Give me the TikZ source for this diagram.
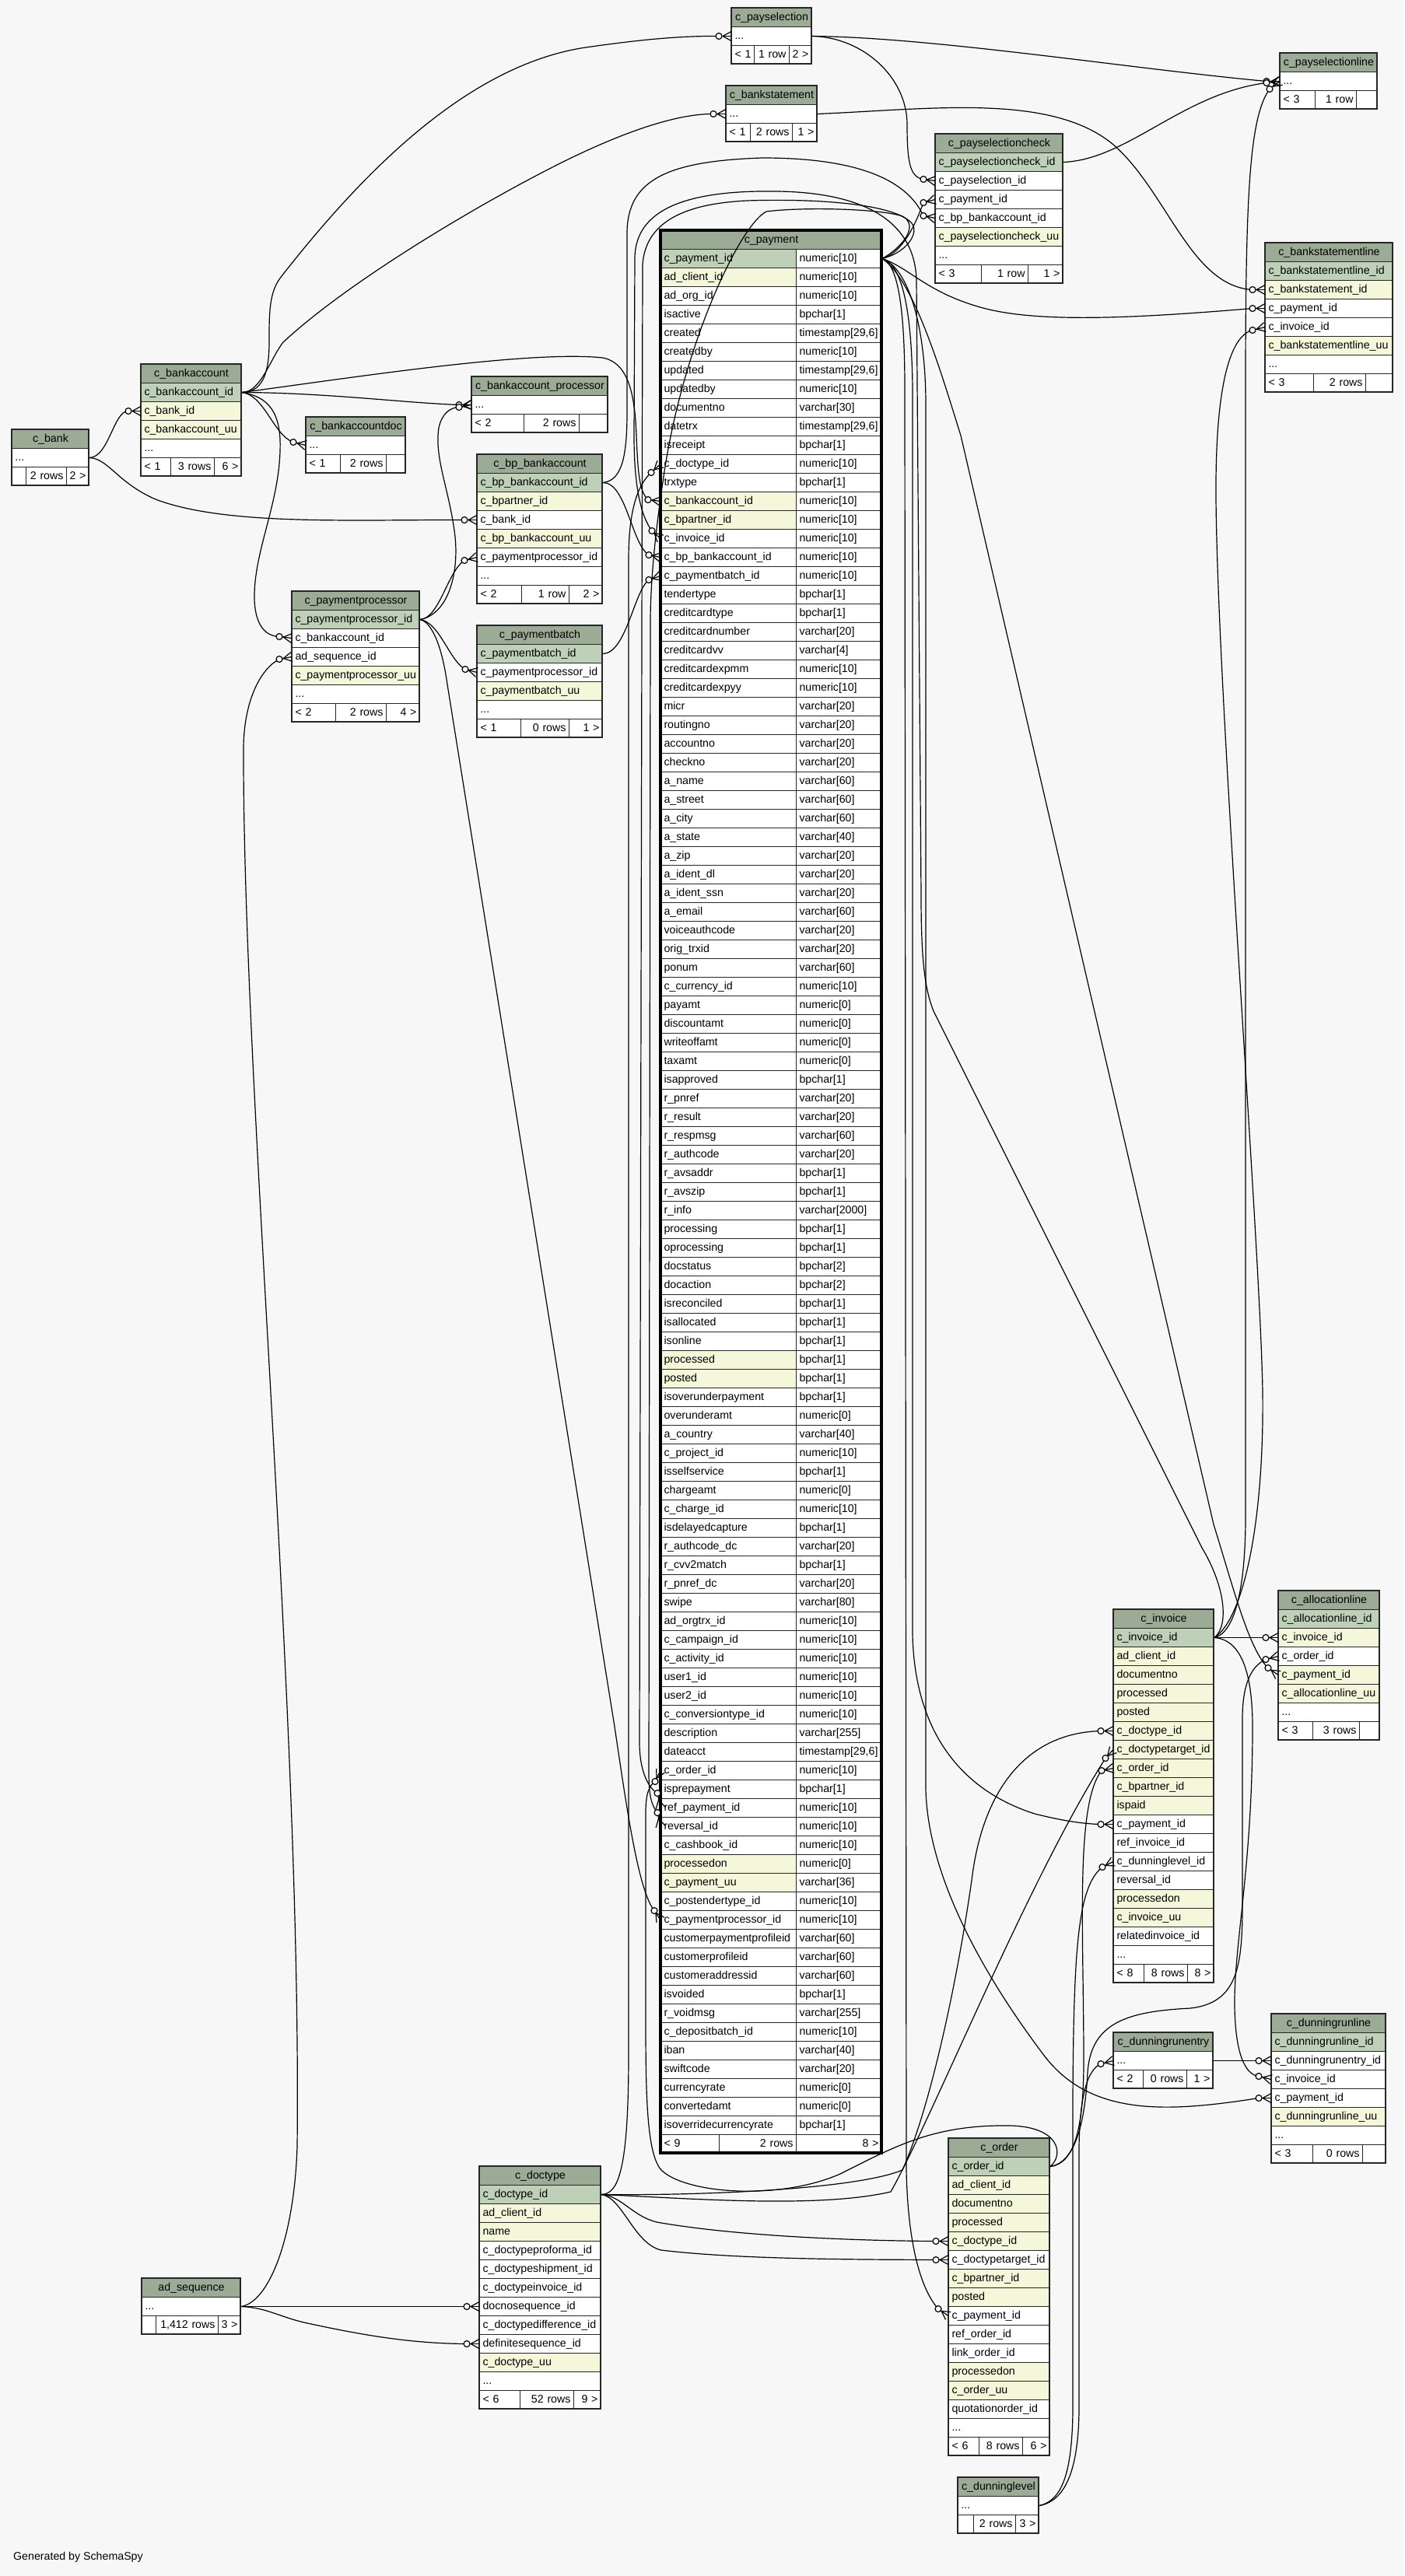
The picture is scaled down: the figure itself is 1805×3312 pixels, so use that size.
\documentclass[tikz,border=0pt]{standalone}
\usepackage{fontspec}
\setmainfont{Liberation Sans}
\usetikzlibrary{calc}
\definecolor{bgc}{HTML}{F7F7F7}
\definecolor{hdc}{HTML}{9BAB96}
\definecolor{pk}{HTML}{BED1B8}
\definecolor{ix}{HTML}{F4F7DA}
\colorlet{wh}{white}
\colorlet{bordc}{black!85}
\newcommand{\rowfont}{\fontsize{14.2}{16}\selectfont}
\newcommand{\dd}{...}
\tikzset{
  cellbase/.style={draw=bordc, line width=1pt, anchor=north west, minimum height=24pt, inner xsep=4pt, inner ysep=0pt, text height=11pt, text depth=3pt, font=\rowfont},
  edge/.style={draw=black, line width=1.2pt, line join=round},
  tframe/.style={draw=bordc, line width=1.6pt},
  mainframe/.style={draw=black, line width=3.5pt},
}
\newcommand{\cellL}[6]{\pgfmathsetmacro{\tw}{#4-8}\node[cellbase, fill=#5, text width=\tw pt, align=left] (#1) at (#2,#3) {\mbox{#6}};}
\newcommand{\cellR}[6]{\pgfmathsetmacro{\tw}{#4-8}\node[cellbase, fill=#5, text width=\tw pt, align=right] (#1) at (#2,#3) {\mbox{#6}};}
\newcommand{\cellC}[6]{\node[cellbase, fill=#5, minimum width=#4pt, inner xsep=0pt] (#1) at (#2,#3) {#6};}
\newcommand{\dbtable}[6]{%
  \cellC{#1}{#2}{#3}{#4}{hdc}{#5}
  \foreach \fc/\nm [count=\i] in {#6} {
    \pgfmathsetmacro{\yy}{#3+24*\i}
    \cellL{#1-\i}{#2}{\yy}{#4}{\fc}{\nm}
  }
}
\newcommand{\dbfoot}[9]{%
  \pgfmathsetmacro{\wa}{#3-#2}\cellL{#1-fa}{#2}{#6}{\wa}{wh}{#7}
  \pgfmathsetmacro{\wb}{#4-#3}\cellR{#1-fb}{#3}{#6}{\wb}{wh}{#8}
  \pgfmathsetmacro{\wc}{#5-#4}\cellR{#1-fc}{#4}{#6}{\wc}{wh}{#9}
}
\newcommand{\crow}[2]{%
  \draw[edge] (#1) -- (#2);
  \draw[edge] ($(#2)!11pt!(#1)$) -- ($(#2)!6pt!90:(#1)$);
  \draw[edge] ($(#2)!11pt!(#1)$) -- ($(#2)!6pt!-90:(#1)$);
  \draw[edge, fill=bgc] (#1) circle[radius=4pt];
}
\newcommand{\fk}[4]{%
  \coordinate (#1) at ([shift={#3}]#2);
  \draw[edge] #4 (#1);
  \crow{#1}{#2}
}
\begin{document}
\begin{tikzpicture}[x=1pt,y=-1pt]
\useasboundingbox (0,0) rectangle (1805,3312);
\fill[bgc] (0,0) rectangle (1805,3312);

% c_bank
\dbtable{bank}{15}{552}{99}{c\_bank}{wh/\dd}
\dbfoot{bank}{15}{33}{85}{114}{600}{}{2 rows}{2 >}
\draw[tframe] (15,552) rectangle (114,624);
% c_bankaccount
\dbtable{ba}{181}{468}{129}{c\_bankaccount}{pk/c\_bankaccount\_id, ix/c\_bank\_id, ix/c\_bankaccount\_uu, wh/\dd}
\dbfoot{ba}{181}{219}{275}{310}{588}{< 1}{3 rows}{6 >}
\draw[tframe] (181,468) rectangle (310,612);
% c_bankaccountdoc
\dbtable{bad}{393}{536}{128}{c\_bankaccountdoc}{wh/\dd}
\dbfoot{bad}{393}{437}{496}{521}{584}{< 1}{2 rows}{}
\draw[tframe] (393,536) rectangle (521,608);
% c_bankaccount_processor
\dbtable{bap}{606}{484}{175}{c\_bankaccount\_processor}{wh/\dd}
\dbfoot{bap}{606}{673}{744}{781}{532}{< 2}{2 rows}{}
\draw[tframe] (606,484) rectangle (781,556);
% c_bp_bankaccount
\dbtable{bpb}{613}{584}{161}{c\_bp\_bankaccount}{pk/c\_bp\_bankaccount\_id, ix/c\_bpartner\_id, wh/c\_bank\_id, ix/c\_bp\_bankaccount\_uu, wh/c\_paymentprocessor\_id, wh/\dd}
\dbfoot{bpb}{613}{670}{731}{774}{752}{< 2}{1 row}{2 >}
\draw[tframe] (613,584) rectangle (774,776);
% c_paymentbatch
\dbtable{pb}{613}{804}{161}{c\_paymentbatch}{pk/c\_paymentbatch\_id, wh/c\_paymentprocessor\_id, ix/c\_paymentbatch\_uu, wh/\dd}
\dbfoot{pb}{613}{669}{731}{774}{924}{< 1}{0 rows}{1 >}
\draw[tframe] (613,804) rectangle (774,948);
% c_paymentprocessor
\dbtable{pp}{375}{760}{164}{c\_paymentprocessor}{pk/c\_paymentprocessor\_id, wh/c\_bankaccount\_id, wh/ad\_sequence\_id, ix/c\_paymentprocessor\_uu, wh/\dd}
\dbfoot{pp}{375}{431}{496}{539}{904}{< 2}{2 rows}{4 >}
\draw[tframe] (375,760) rectangle (539,928);
% c_payselection
\dbtable{ps}{940}{10}{103}{c\_payselection}{wh/\dd}
\dbfoot{ps}{940}{969}{1014}{1043}{58}{< 1}{1 row}{2 >}
\draw[tframe] (940,10) rectangle (1043,82);
% c_bankstatement
\dbtable{bs}{933}{110}{117}{c\_bankstatement}{wh/\dd}
\dbfoot{bs}{933}{964}{1018}{1050}{158}{< 1}{2 rows}{1 >}
\draw[tframe] (933,110) rectangle (1050,182);
% c_payselectionline
\dbtable{psl}{1645}{68}{125}{c\_payselectionline}{wh/\dd}
\dbfoot{psl}{1645}{1690}{1743}{1770}{116}{< 3}{1 row}{}
\draw[tframe] (1645,68) rectangle (1770,140);
% c_payselectioncheck
\dbtable{psc}{1202}{172}{164}{c\_payselectioncheck}{pk/c\_payselectioncheck\_id, wh/c\_payselection\_id, wh/c\_payment\_id, wh/c\_bp\_bankaccount\_id, ix/c\_payselectioncheck\_uu, wh/\dd}
\dbfoot{psc}{1202}{1261}{1321}{1366}{340}{< 3}{1 row}{1 >}
\draw[tframe] (1202,172) rectangle (1366,364);
% c_bankstatementline
\dbtable{bsl}{1626}{312}{164}{c\_bankstatementline}{pk/c\_bankstatementline\_id, ix/c\_bankstatement\_id, wh/c\_payment\_id, wh/c\_invoice\_id, ix/c\_bankstatementline\_uu, wh/\dd}
\dbfoot{bsl}{1626}{1688}{1755}{1790}{480}{< 3}{2 rows}{}
\draw[tframe] (1626,312) rectangle (1790,504);
% c_invoice
\dbtable{inv}{1431}{2069}{129}{c\_invoice}{pk/c\_invoice\_id, ix/ad\_client\_id, ix/documentno, ix/processed, ix/posted, ix/c\_doctype\_id, ix/c\_doctypetarget\_id, ix/c\_order\_id, ix/c\_bpartner\_id, ix/ispaid, wh/c\_payment\_id, wh/ref\_invoice\_id, wh/c\_dunninglevel\_id, wh/reversal\_id, ix/processedon, ix/c\_invoice\_uu, wh/relatedinvoice\_id, wh/\dd}
\dbfoot{inv}{1431}{1470}{1526}{1560}{2525}{< 8}{8 rows}{8 >}
\draw[tframe] (1431,2069) rectangle (1560,2549);
% c_allocationline
\dbtable{al}{1643}{2045}{130}{c\_allocationline}{pk/c\_allocationline\_id, ix/c\_invoice\_id, wh/c\_order\_id, ix/c\_payment\_id, ix/c\_allocationline\_uu, wh/\dd}
\dbfoot{al}{1643}{1687}{1747}{1773}{2213}{< 3}{3 rows}{}
\draw[tframe] (1643,2045) rectangle (1773,2237);
% c_dunningrunentry
\dbtable{dre}{1431}{2613}{128}{c\_dunningrunentry}{wh/\dd}
\dbfoot{dre}{1431}{1469}{1525}{1559}{2661}{< 2}{0 rows}{1 >}
\draw[tframe] (1431,2613) rectangle (1559,2685);
% c_dunningrunline
\dbtable{drl}{1634}{2589}{147}{c\_dunningrunline}{pk/c\_dunningrunline\_id, wh/c\_dunningrunentry\_id, wh/c\_invoice\_id, wh/c\_payment\_id, ix/c\_dunningrunline\_uu, wh/\dd}
\dbfoot{drl}{1634}{1687}{1751}{1781}{2757}{< 3}{0 rows}{}
\draw[tframe] (1634,2589) rectangle (1781,2781);
% c_order
\dbtable{ord}{1219}{2749}{130}{c\_order}{pk/c\_order\_id, ix/ad\_client\_id, ix/documentno, ix/processed, ix/c\_doctype\_id, wh/c\_doctypetarget\_id, ix/c\_bpartner\_id, ix/posted, wh/c\_payment\_id, wh/ref\_order\_id, wh/link\_order\_id, ix/processedon, ix/c\_order\_uu, wh/quotationorder\_id, wh/\dd}
\dbfoot{ord}{1219}{1258}{1314}{1349}{3133}{< 6}{8 rows}{6 >}
\draw[tframe] (1219,2749) rectangle (1349,3157);
% c_dunninglevel
\dbtable{dl}{1231}{3185}{104}{c\_dunninglevel}{wh/\dd}
\dbfoot{dl}{1231}{1251}{1305}{1335}{3233}{}{2 rows}{3 >}
\draw[tframe] (1231,3185) rectangle (1335,3257);
% c_doctype
\dbtable{dt}{616}{2785}{156}{c\_doctype}{pk/c\_doctype\_id, ix/ad\_client\_id, ix/name, wh/c\_doctypeproforma\_id, wh/c\_doctypeshipment\_id, wh/c\_doctypeinvoice\_id, wh/docnosequence\_id, wh/c\_doctypedifference\_id, wh/definitesequence\_id, ix/c\_doctype\_uu, wh/\dd}
\dbfoot{dt}{616}{668}{737}{772}{3073}{< 6}{52 rows}{9 >}
\draw[tframe] (616,2785) rectangle (772,3097);
% ad_sequence
\dbtable{as}{182}{2929}{127}{ad\_sequence}{wh/\dd}
\dbfoot{as}{182}{200}{280}{309}{2977}{}{1,412 rows}{3 >}
\draw[tframe] (182,2929) rectangle (309,3001);

% c_payment
\cellC{pay}{849}{296}{284}{hdc}{c\_payment}
\foreach \fc/\nm/\ty [count=\i] in {
{pk/c\_payment\_id/numeric[10]},
{ix/ad\_client\_id/numeric[10]},
{wh/ad\_org\_id/numeric[10]},
{wh/isactive/bpchar[1]},
{wh/created/timestamp[29,6]},
{wh/createdby/numeric[10]},
{wh/updated/timestamp[29,6]},
{wh/updatedby/numeric[10]},
{wh/documentno/varchar[30]},
{wh/datetrx/timestamp[29,6]},
{wh/isreceipt/bpchar[1]},
{wh/c\_doctype\_id/numeric[10]},
{wh/trxtype/bpchar[1]},
{ix/c\_bankaccount\_id/numeric[10]},
{ix/c\_bpartner\_id/numeric[10]},
{wh/c\_invoice\_id/numeric[10]},
{wh/c\_bp\_bankaccount\_id/numeric[10]},
{wh/c\_paymentbatch\_id/numeric[10]},
{wh/tendertype/bpchar[1]},
{wh/creditcardtype/bpchar[1]},
{wh/creditcardnumber/varchar[20]},
{wh/creditcardvv/varchar[4]},
{wh/creditcardexpmm/numeric[10]},
{wh/creditcardexpyy/numeric[10]},
{wh/micr/varchar[20]},
{wh/routingno/varchar[20]},
{wh/accountno/varchar[20]},
{wh/checkno/varchar[20]},
{wh/a\_name/varchar[60]},
{wh/a\_street/varchar[60]},
{wh/a\_city/varchar[60]},
{wh/a\_state/varchar[40]},
{wh/a\_zip/varchar[20]},
{wh/a\_ident\_dl/varchar[20]},
{wh/a\_ident\_ssn/varchar[20]},
{wh/a\_email/varchar[60]},
{wh/voiceauthcode/varchar[20]},
{wh/orig\_trxid/varchar[20]},
{wh/ponum/varchar[60]},
{wh/c\_currency\_id/numeric[10]},
{wh/payamt/numeric[0]},
{wh/discountamt/numeric[0]},
{wh/writeoffamt/numeric[0]},
{wh/taxamt/numeric[0]},
{wh/isapproved/bpchar[1]},
{wh/r\_pnref/varchar[20]},
{wh/r\_result/varchar[20]},
{wh/r\_respmsg/varchar[60]},
{wh/r\_authcode/varchar[20]},
{wh/r\_avsaddr/bpchar[1]},
{wh/r\_avszip/bpchar[1]},
{wh/r\_info/varchar[2000]},
{wh/processing/bpchar[1]},
{wh/oprocessing/bpchar[1]},
{wh/docstatus/bpchar[2]},
{wh/docaction/bpchar[2]},
{wh/isreconciled/bpchar[1]},
{wh/isallocated/bpchar[1]},
{wh/isonline/bpchar[1]},
{ix/processed/bpchar[1]},
{ix/posted/bpchar[1]},
{wh/isoverunderpayment/bpchar[1]},
{wh/overunderamt/numeric[0]},
{wh/a\_country/varchar[40]},
{wh/c\_project\_id/numeric[10]},
{wh/isselfservice/bpchar[1]},
{wh/chargeamt/numeric[0]},
{wh/c\_charge\_id/numeric[10]},
{wh/isdelayedcapture/bpchar[1]},
{wh/r\_authcode\_dc/varchar[20]},
{wh/r\_cvv2match/bpchar[1]},
{wh/r\_pnref\_dc/varchar[20]},
{wh/swipe/varchar[80]},
{wh/ad\_orgtrx\_id/numeric[10]},
{wh/c\_campaign\_id/numeric[10]},
{wh/c\_activity\_id/numeric[10]},
{wh/user1\_id/numeric[10]},
{wh/user2\_id/numeric[10]},
{wh/c\_conversiontype\_id/numeric[10]},
{wh/description/varchar[255]},
{wh/dateacct/timestamp[29,6]},
{wh/c\_order\_id/numeric[10]},
{wh/isprepayment/bpchar[1]},
{wh/ref\_payment\_id/numeric[10]},
{wh/reversal\_id/numeric[10]},
{wh/c\_cashbook\_id/numeric[10]},
{ix/processedon/numeric[0]},
{ix/c\_payment\_uu/varchar[36]},
{wh/c\_postendertype\_id/numeric[10]},
{wh/c\_paymentprocessor\_id/numeric[10]},
{wh/customerpaymentprofileid/varchar[60]},
{wh/customerprofileid/varchar[60]},
{wh/customeraddressid/varchar[60]},
{wh/isvoided/bpchar[1]},
{wh/r\_voidmsg/varchar[255]},
{wh/c\_depositbatch\_id/numeric[10]},
{wh/iban/varchar[40]},
{wh/swiftcode/varchar[20]},
{wh/currencyrate/numeric[0]},
{wh/convertedamt/numeric[0]},
{wh/isoverridecurrencyrate/bpchar[1]}} {
  \pgfmathsetmacro{\yy}{296+24*\i}
  \cellL{pay-\i}{849}{\yy}{174}{\fc}{\nm}
  \cellL{payt-\i}{1023}{\yy}{110}{wh}{\ty}
}
\dbfoot{pay}{849}{924}{1023}{1133}{2744}{< 9}{2 rows}{8 >}
\draw[mainframe] (849,296) rectangle (1133,2768);

% ---------- connectors ----------
\fk{k1}{ba-2.west}{(-16,0)}{(bank-1.east) .. controls (140,588) and (146,528) ..}
\fk{k2}{bpb-3.west}{(-16,0)}{(bank-1.east) .. controls (140,590) and (150,620) .. (200,642) .. controls (290,676) and (450,668) ..}
\fk{k3}{ps-1.west}{(-16,0)}{(ba-1.east) .. controls (335,504) and (346,485) .. (346,440) .. controls (346,400) and (346,375) .. (362,355) .. controls (460,230) and (600,80) .. (760,60) .. controls (830,50) and (880,46) ..}
\fk{k4}{bs-1.west}{(-16,0)}{(ba-1.east) .. controls (335,505) and (348,460) .. (364,440) .. controls (450,360) and (620,260) .. (720,210) .. controls (800,170) and (870,146) ..}
\fk{k5}{pay-14.west}{(-16,-2)}{(ba-1.east) .. controls (450,486) and (680,450) .. (775,460) .. controls (805,466) and (816,500) .. (818,560) .. controls (820,610) and (822,632) ..}
\fk{k6}{bap-1.west}{(-16,0)}{(ba-1.east) .. controls (420,505) and (520,518) ..}
\fk{k7}{bad-1.west}{(-16,-4)}{(ba-1.east) .. controls (340,508) and (352,560) ..}
\fk{k8}{pp-2.west}{(-16,-2)}{(ba-1.east) .. controls (345,510) and (362,530) .. (360,580) .. controls (358,650) and (326,710) .. (327,770) .. controls (328,805) and (342,818) ..}
\fk{k9}{pay-17.west}{(-15,-3)}{(bpb-1.east) .. controls (805,620) and (812,700) ..}
\fk{k10}{psc-4.west}{(-15,-3)}{(bpb-1.east) .. controls (800,618) and (806,585) .. (806,530) -- (806,300) .. controls (806,230) and (860,207) .. (980,203) .. controls (1100,203) and (1165,230) ..}
\fk{k11}{bpb-5.west}{(-16,4)}{(pp-1.east) .. controls (565,795) and (575,735) ..}
\fk{k12}{bap-1.west}{(-16,3)}{(pp-1.east) .. controls (575,790) and (590,740) .. (585,690) .. controls (578,630) and (558,590) .. (564,550) .. controls (568,532) and (578,524) ..}
\fk{k13}{pb-2.west}{(-15,-4)}{(pp-1.east) .. controls (565,800) and (578,850) ..}
\fk{k14}{pay-90.west}{(-8,-12)}{(pp-1.east) .. controls (555,800) and (568,830) .. (575,880) -- (790,2220) .. controls (805,2320) and (820,2430) ..}
\fk{k15}{pp-3.west}{(-16,3)}{(as-1.east) .. controls (345,2960) and (378,2880) .. (382,2760) .. controls (388,2200) and (312,1400) .. (313,960) .. controls (314,900) and (335,860) ..}
\fk{k16}{dt-7.west}{(-16,0)}{(as-1.east) --}
\fk{k17}{dt-9.west}{(-16,0)}{(as-1.east) .. controls (345,2967) and (360,2980) .. (400,2988) .. controls (470,3003) and (530,3013) ..}
\fk{k18}{pay-12.west}{(-12,11)}{(dt-1.east) .. controls (795,2821) and (808,2790) .. (808,2640) -- (808,720) .. controls (808,660) and (818,625) ..}
\fk{k19}{inv-6.west}{(-16,0)}{(dt-1.east) .. controls (900,2823) and (1100,2815) .. (1160,2790) .. controls (1200,2700) and (1235,2520) .. (1250,2410) .. controls (1265,2300) and (1320,2228) ..}
\fk{k20}{inv-7.west}{(-10,11)}{(dt-1.east) .. controls (880,2826) and (1050,2840) .. (1145,2818) .. controls (1200,2720) and (1320,2420) ..}
\fk{k21}{ord-5.west}{(-16,0)}{(dt-1.east) .. controls (800,2823) and (815,2853) .. (850,2858) .. controls (950,2875) and (1100,2881) ..}
\fk{k22}{ord-6.west}{(-16,0)}{(dt-1.east) .. controls (800,2825) and (815,2885) .. (850,2893) .. controls (950,2905) and (1100,2905) ..}
\fk{k23}{inv-8.west}{(-15,3)}{(ord-1.east) .. controls (1380,2782) and (1393,2740) .. (1393,2650) .. controls (1393,2480) and (1382,2320) ..}
\fk{k24}{al-3.west}{(-16,4)}{(ord-1.east) .. controls (1385,2780) and (1395,2720) .. (1398,2665) .. controls (1402,2600) and (1450,2586) .. (1530,2582) .. controls (1590,2575) and (1597,2530) .. (1597,2450) -- (1597,2210) .. controls (1597,2170) and (1606,2143) ..}
\fk{k25}{pay-82.west}{(-7,14)}{(ord-1.east) .. controls (1368,2770) and (1362,2735) .. (1300,2733) .. controls (1200,2731) and (1150,2760) .. (1080,2795) .. controls (1000,2830) and (880,2820) .. (850,2790) .. controls (832,2770) and (830,2700) .. (830,2600) -- (830,2330) .. controls (830,2305) and (835,2295) ..}
\fk{k26}{inv-13.west}{(-14,7)}{(dl-1.east) .. controls (1365,3215) and (1378,3180) .. (1379,3100) -- (1379,2700) .. controls (1380,2500) and (1386,2425) ..}
\fk{k27}{dre-1.west}{(-16,4)}{(dl-1.east) .. controls (1372,3215) and (1386,3170) .. (1387,3100) -- (1387,2760) .. controls (1388,2700) and (1396,2662) ..}
\fk{k28}{drl-2.west}{(-16,0)}{(dre-1.east) --}
\fk{k29}{drl-3.west}{(-16,-4)}{(inv-1.east) .. controls (1595,2108) and (1610,2150) .. (1610,2220) .. controls (1610,2400) and (1586,2500) .. (1587,2580) .. controls (1588,2640) and (1600,2667) ..}
\fk{k30}{al-2.west}{(-16,0)}{(inv-1.east) --}
\fk{k31}{psl-1.west}{(-13,10)}{(inv-1.east) .. controls (1585,2100) and (1601,2050) .. (1601,1950) -- (1601,500) .. controls (1601,250) and (1606,150) ..}
\fk{k32}{bsl-4.west}{(-16,4)}{(inv-1.east) .. controls (1600,2080) and (1625,1950) .. (1623,1790) .. controls (1620,1600) and (1565,900) .. (1563,640) .. controls (1562,500) and (1580,432) ..}
\fk{k33}{pay-16.west}{(-11,-10)}{(inv-1.east) .. controls (1580,2090) and (1575,2040) .. (1545,1990) -- (1200,1300) .. controls (1188,1270) and (1184,1230) .. (1184,1150) -- (1178,360) .. controls (1176,290) and (1120,248) .. (1000,246) .. controls (880,244) and (818,270) .. (816,330) -- (815,560) .. controls (815,630) and (825,665) ..}
\fk{k34}{psl-1.west}{(-17,0)}{(ps-1.east) .. controls (1200,48) and (1450,88) ..}
\fk{k35}{psc-2.west}{(-15,-2)}{(ps-1.east) .. controls (1110,48) and (1166,100) .. (1166,160) .. controls (1166,210) and (1170,228) ..}
\fk{k36}{bsl-2.west}{(-16,0)}{(bs-1.east) .. controls (1200,140) and (1350,120) .. (1430,185) .. controls (1500,245) and (1530,368) ..}
\fk{k37}{psl-1.west}{(-17,2)}{(psc-1.east) .. controls (1450,205) and (1520,120) ..}
\fk{k38}{psc-3.west}{(-15,4)}{(payt-1.east) .. controls (1160,325) and (1176,290) ..}
\fk{k39}{bsl-3.west}{(-16,0)}{(payt-1.east) .. controls (1170,345) and (1190,375) .. (1260,395) .. controls (1330,415) and (1450,410) ..}
\fk{k40}{al-4.west}{(-13,-9)}{(payt-1.east) .. controls (1175,360) and (1210,480) .. (1235,560) -- (1560,1960) .. controls (1585,2040) and (1605,2120) ..}
\fk{k41}{inv-11.west}{(-16,0)}{(payt-1.east) .. controls (1160,340) and (1172,400) .. (1173,500) -- (1173,2100) .. controls (1175,2220) and (1230,2300) .. (1330,2332) .. controls (1370,2342) and (1395,2345) ..}
\fk{k42}{drl-4.west}{(-16,0)}{(payt-1.east) .. controls (1168,345) and (1190,420) .. (1190,520) -- (1190,2300) .. controls (1192,2400) and (1250,2520) .. (1340,2640) .. controls (1400,2722) and (1500,2716) ..}
\fk{k43}{ord-9.west}{(-13,-9)}{(payt-1.east) .. controls (1155,340) and (1163,400) .. (1163,500) -- (1165,2790) .. controls (1167,2890) and (1185,2945) ..}
\fk{k44}{pay-84.west}{(-4,-19)}{(payt-1.east) .. controls (1165,325) and (1182,300) .. (1172,287) .. controls (1150,262) and (1050,255) .. (960,258) .. controls (880,262) and (830,285) .. (826,340) -- (822,2240) .. controls (822,2280) and (835,2300) ..}
\fk{k45}{pay-85.west}{(-4,-18)}{(payt-1.east) .. controls (1160,318) and (1182,290) .. (1160,278) .. controls (1130,268) and (1030,266) .. (985,272) .. controls (950,290) and (875,450) .. (852,620) .. controls (840,700) and (836,760) .. (836,800) -- (834,2280) .. controls (834,2310) and (838,2322) ..}
\fk{k46}{pay-18.west}{(-15,5)}{(pb-1.east) .. controls (805,840) and (815,760) ..}

\node[anchor=west, font=\rowfont, inner sep=0pt] (gen) at (17,3288) {Generated by SchemaSpy};
\end{tikzpicture}
\end{document}
